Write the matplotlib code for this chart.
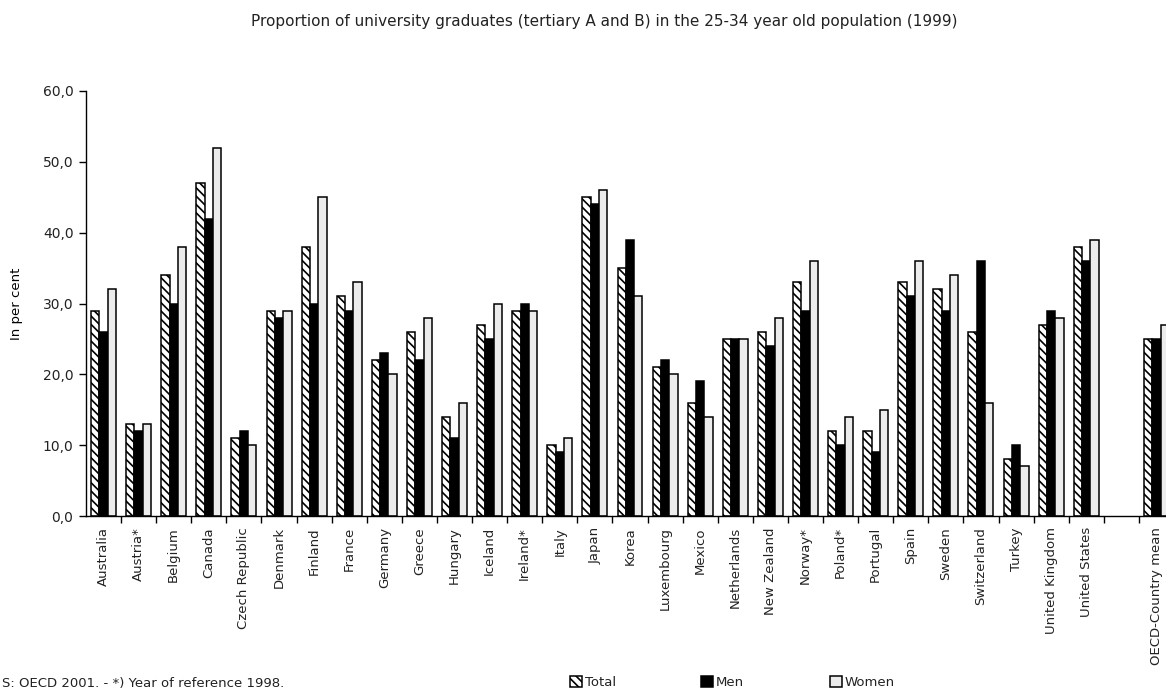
import numpy as np
import matplotlib
matplotlib.use("Agg")
import matplotlib.pyplot as plt
from matplotlib.ticker import FuncFormatter, FixedLocator

# data (per cent)
countries = ["Australia", "Austria*", "Belgium", "Canada", "Czech Republic",
             "Denmark", "Finland", "France", "Germany", "Greece", "Hungary",
             "Iceland", "Ireland*", "Italy", "Japan", "Korea", "Luxembourg",
             "Mexico", "Netherlands", "New Zealand", "Norway*", "Poland*",
             "Portugal", "Spain", "Sweden", "Switzerland", "Turkey",
             "United Kingdom", "United States", "", "OECD-Country mean"]
total = [29, 13, 34, 47, 11, 29, 38, 31, 22, 26, 14, 27, 29, 10, 45, 35, 21,
         16, 25, 26, 33, 12, 12, 33, 32, 26, 8, 27, 38, np.nan, 25]
men = [26, 12, 30, 42, 12, 28, 30, 29, 23, 22, 11, 25, 30, 9, 44, 39, 22,
       19, 25, 24, 29, 10, 9, 31, 29, 36, 10, 29, 36, np.nan, 25]
women = [32, 13, 38, 52, 10, 29, 45, 33, 20, 28, 16, 30, 29, 11, 46, 31, 20,
         14, 25, 28, 36, 14, 15, 36, 34, 16, 7, 28, 39, np.nan, 27]

plt.rcParams['font.family'] = 'DejaVu Sans'
plt.rcParams['hatch.linewidth'] = 1.2
plt.rcParams['text.color'] = '#222222'
plt.rcParams['xtick.labelcolor'] = '#222222'
plt.rcParams['ytick.labelcolor'] = '#222222'

fig = plt.figure(figsize=(11.66, 6.96), dpi=100)
ax = fig.add_axes([86 / 1166, 180 / 696, 1088 / 1166, 425 / 696])

x = np.arange(len(countries))
w = 0.237
kw = dict(edgecolor='black', linewidth=1.1)
b1 = ax.bar(x - w, total, w, color='white', hatch='\\\\\\\\', label='Total', **kw)
b2 = ax.bar(x, men, w, color='black', label='Men', **kw)
b3 = ax.bar(x + w, women, w, color='#ececec', label='Women', **kw)

ax.set_xlim(-0.5, len(countries) - 0.5)
ax.set_ylim(0, 60)
ax.set_yticks(np.arange(0, 61, 10))
ax.yaxis.set_major_formatter(FuncFormatter(lambda v, p: f"{v:.1f}".replace('.', ',')))
ax.tick_params(axis='y', direction='out', length=5, width=1, labelsize=10, pad=4)

ax.set_xticks(x)
ax.set_xticklabels(countries, rotation=90, fontsize=9.5)
ax.tick_params(axis='x', which='major', length=0, pad=8)
ax.xaxis.set_minor_locator(FixedLocator(np.arange(0.5, len(countries) - 0.5, 1)))
ax.tick_params(axis='x', which='minor', direction='out', length=5, width=1)

for s in ['top', 'right']:
    ax.spines[s].set_visible(False)
ax.spines['left'].set_linewidth(1)
ax.spines['bottom'].set_linewidth(1)

ax.set_ylabel("In per cent", fontsize=9.5, labelpad=14)

fig.text(0.518, 0.969, "Proportion of university graduates (tertiary A and B) in the 25-34 year old population (1999)",
         ha='center', va='center', fontsize=11)
fig.text(0.002, 0.018, "S: OECD 2001. - *) Year of reference 1998.",
         ha='left', va='center', fontsize=9.5)

fig.legend(handles=[b1, b2, b3], loc='center', bbox_to_anchor=(0.628, 0.02),
           ncol=3, frameon=False, fontsize=9.5, handlelength=0.9,
           handleheight=0.9, handletextpad=0.2, columnspacing=6.5)

fig.savefig("out.png", dpi=100)
